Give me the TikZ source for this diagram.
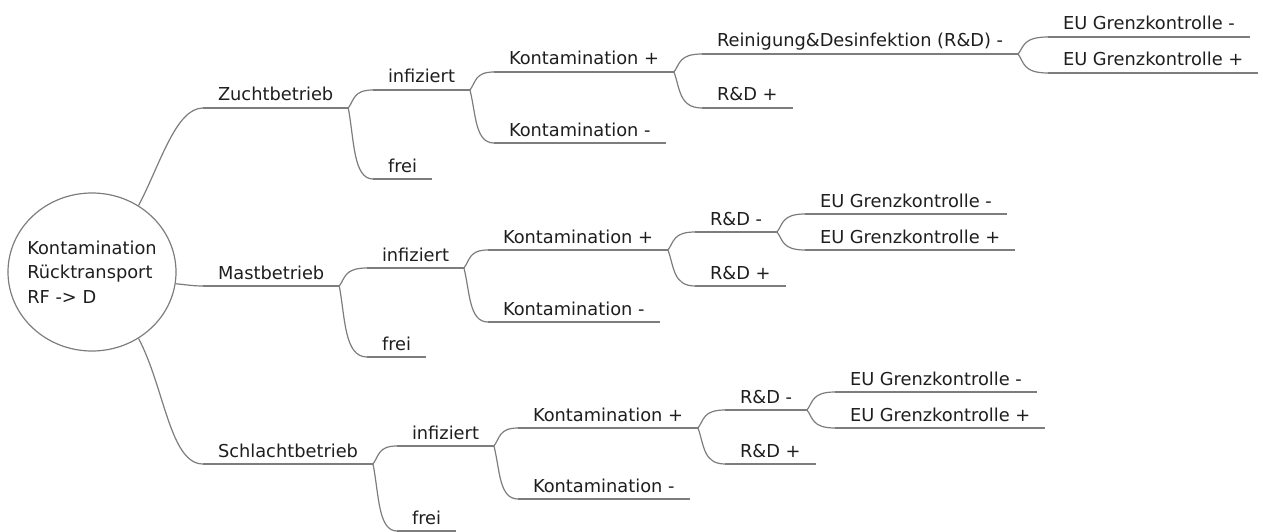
\documentclass[tikz,border=0pt]{standalone}
\usepackage{fontspec}
\setmainfont{DejaVu Sans}
\usetikzlibrary{shapes.geometric,calc}
\definecolor{linegray}{RGB}{125,125,125}
\definecolor{textdark}{RGB}{30,30,30}
\tikzset{
    % Topic text, sitting on its own underline
    node_topic/.style = {font=\fontsize{17.8}{24}\selectfont, text=textdark, inner xsep=15pt, inner ysep=0pt, text height=13pt, text depth=7pt, outer sep=0pt, anchor=south west},
    % Central Node
    node_root/.style = {ellipse, draw=linegray, line width=1.2pt, minimum width=168pt, minimum height=158pt, inner xsep=-40pt, inner ysep=-20pt, align=left, font=\fontsize{17.8}{24.5}\selectfont, text=textdark},
    line_conn/.style = {draw=linegray, line width=1.2pt},
    line_curve/.style = {line_conn, to path={let \p1=(\tikztostart), \p2=(\tikztotarget) in
        .. controls (\x1+6pt,{\y1+0.45*(\y2-\y1)}) and (\x1+5pt,\y2) .. (\tikztotarget)}}
}

\begin{document}
\begin{tikzpicture}[x=1pt, y=-1pt]
    \useasboundingbox (0,0) rectangle (1263,532);

    \node[node_root] (root) at (92,272) {Kontamination\\Rücktransport\\RF -> D};

    % Zuchtbetrieb
    \node[node_topic] (zb) at (203,108) {Zuchtbetrieb};
    \node[node_topic] (zb_inf) at (373,90) {infiziert};
    \node[node_topic] (zb_frei) at (373,179) {frei};
    \node[node_topic] (zb_kp) at (494,72) {Kontamination +};
    \node[node_topic] (zb_km) at (494,143) {Kontamination -};
    \node[node_topic] (zb_rdm) at (702,54) {Reinigung\&Desinfektion (R\&D) -};
    \node[node_topic] (zb_rdp) at (702,108) {R\&D +};
    \node[node_topic] (zb_eum) at (1048,37) {EU Grenzkontrolle -};
    \node[node_topic] (zb_eup) at (1048,73) {EU Grenzkontrolle +};

    % Mastbetrieb
    \node[node_topic] (mb) at (203,286) {Mastbetrieb};
    \node[node_topic] (mb_inf) at (367,268) {infiziert};
    \node[node_topic] (mb_frei) at (367,357) {frei};
    \node[node_topic] (mb_kp) at (488,250) {Kontamination +};
    \node[node_topic] (mb_km) at (488,322) {Kontamination -};
    \node[node_topic] (mb_rdm) at (695,232) {R\&D -};
    \node[node_topic] (mb_rdp) at (695,286) {R\&D +};
    \node[node_topic] (mb_eum) at (805,214) {EU Grenzkontrolle -};
    \node[node_topic] (mb_eup) at (805,250) {EU Grenzkontrolle +};

    % Schlachtbetrieb
    \node[node_topic] (sb) at (203,464) {Schlachtbetrieb};
    \node[node_topic] (sb_inf) at (397,446) {infiziert};
    \node[node_topic] (sb_frei) at (397,531) {frei};
    \node[node_topic] (sb_kp) at (518,428) {Kontamination +};
    \node[node_topic] (sb_km) at (518,499) {Kontamination -};
    \node[node_topic] (sb_rdm) at (725,410) {R\&D -};
    \node[node_topic] (sb_rdp) at (725,464) {R\&D +};
    \node[node_topic] (sb_eum) at (835,392) {EU Grenzkontrolle -};
    \node[node_topic] (sb_eup) at (835,428) {EU Grenzkontrolle +};

    % underlines
    \foreach \n in {zb,zb_inf,zb_frei,zb_kp,zb_km,zb_rdm,zb_rdp,zb_eum,zb_eup,
                    mb,mb_inf,mb_frei,mb_kp,mb_km,mb_rdm,mb_rdp,mb_eum,mb_eup,
                    sb,sb_inf,sb_frei,sb_kp,sb_km,sb_rdm,sb_rdp,sb_eum,sb_eup}
        \draw[line_conn] (\n.south west) -- (\n.south east);

    % branches
    \draw[line_conn] (root.55) to[out=62, in=180, in looseness=0.6] (zb.south west);
    \draw[line_conn] (root.-8) to[out=-5, in=180] (mb.south west);
    \draw[line_conn] (root.-55) to[out=-62, in=180, in looseness=0.6] (sb.south west);
    \foreach \br in {zb,mb,sb}
        \foreach \from/\to in {/_inf, /_frei, _inf/_kp, _inf/_km, _kp/_rdm, _kp/_rdp, _rdm/_eum, _rdm/_eup}
            \draw[line_curve] (\br\from.south east) to (\br\to.south west);
\end{tikzpicture}
\end{document}
